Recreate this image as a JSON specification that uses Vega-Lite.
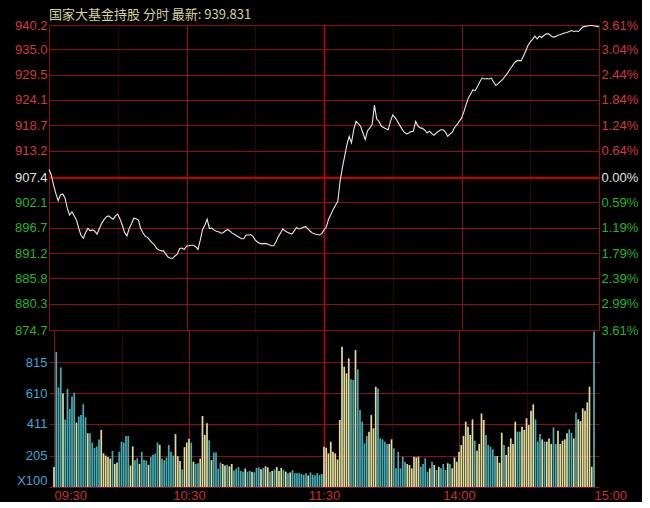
{
  "$schema": "https://vega.github.io/schema/vega-lite/v6.json",
  "background": "#000000",
  "padding": {"left": 14, "top": 9, "right": 4, "bottom": 0},
  "spacing": 0,
  "bounds": "flush",
  "config": {
    "view": {"stroke": null},
    "axis": {"labelFont": "Liberation Sans", "labelFontSize": 13, "ticks": false, "domain": false, "title": null, "labelPadding": 2}
  },
  "datasets": {
    "price": [
      {"t":0,"p":909.2},{"t":1,"p":908.0},{"t":2,"p":905.8},{"t":3,"p":904.0},{"t":4,"p":902.5},{"t":5,"p":903.7},{"t":6,"p":903.9},{"t":7,"p":903.0},{"t":8,"p":900.8},{"t":9,"p":899.4},
      {"t":10,"p":900.1},{"t":11,"p":899.2},{"t":12,"p":898.3},{"t":13,"p":896.5},{"t":14,"p":895.0},{"t":15,"p":894.4},{"t":16,"p":895.7},{"t":17,"p":896.5},{"t":18,"p":896.0},{"t":19,"p":896.2},
      {"t":20,"p":895.9},{"t":21,"p":895.3},{"t":22,"p":896.5},{"t":23,"p":897.6},{"t":24,"p":898.4},{"t":25,"p":899.0},{"t":26,"p":899.2},{"t":27,"p":898.8},{"t":28,"p":898.5},{"t":29,"p":899.2},
      {"t":30,"p":899.6},{"t":31,"p":898.5},{"t":32,"p":897.2},{"t":33,"p":895.6},{"t":34,"p":894.9},{"t":35,"p":896.5},{"t":36,"p":897.5},{"t":37,"p":898.7},{"t":38,"p":898.6},{"t":39,"p":898.3},
      {"t":40,"p":896.5},{"t":41,"p":895.6},{"t":42,"p":894.8},{"t":43,"p":894.6},{"t":44,"p":894.0},{"t":45,"p":893.4},{"t":46,"p":893.0},{"t":47,"p":892.2},{"t":48,"p":891.9},{"t":49,"p":891.7},
      {"t":50,"p":891.7},{"t":51,"p":891.0},{"t":52,"p":890.3},{"t":53,"p":890.1},{"t":54,"p":890.1},{"t":55,"p":890.6},{"t":56,"p":891.0},{"t":57,"p":892.2},{"t":58,"p":892.3},{"t":59,"p":892.0},
      {"t":60,"p":892.7},{"t":61,"p":892.8},{"t":62,"p":892.9},{"t":63,"p":892.9},{"t":64,"p":892.6},{"t":65,"p":892.0},{"t":66,"p":894.0},{"t":67,"p":896.3},{"t":68,"p":897.2},{"t":69,"p":898.5},
      {"t":70,"p":896.5},{"t":71,"p":896.6},{"t":72,"p":896.2},{"t":73,"p":895.9},{"t":74,"p":895.8},{"t":75,"p":895.5},{"t":76,"p":895.6},{"t":77,"p":896.0},{"t":78,"p":896.3},{"t":79,"p":895.9},
      {"t":80,"p":895.5},{"t":81,"p":895.2},{"t":82,"p":894.9},{"t":83,"p":894.6},{"t":84,"p":894.3},{"t":85,"p":894.3},{"t":86,"p":895.1},{"t":87,"p":895.1},{"t":88,"p":895.2},{"t":89,"p":894.8},
      {"t":90,"p":894.0},{"t":91,"p":893.6},{"t":92,"p":893.3},{"t":93,"p":893.2},{"t":94,"p":893.3},{"t":95,"p":893.2},{"t":96,"p":893.0},{"t":97,"p":892.8},{"t":98,"p":892.8},{"t":99,"p":893.6},
      {"t":100,"p":894.7},{"t":101,"p":895.5},{"t":102,"p":896.4},{"t":103,"p":896.0},{"t":104,"p":895.7},{"t":105,"p":895.5},{"t":106,"p":895.3},{"t":107,"p":896.0},{"t":108,"p":896.7},{"t":109,"p":896.4},
      {"t":110,"p":896.5},{"t":111,"p":896.8},{"t":112,"p":896.9},{"t":113,"p":896.4},{"t":114,"p":895.9},{"t":115,"p":895.5},{"t":116,"p":895.3},{"t":117,"p":895.2},{"t":118,"p":895.1},{"t":119,"p":895.4},
      {"t":120,"p":896.2},{"t":121,"p":896.8},{"t":122,"p":898.5},{"t":123,"p":899.5},{"t":124,"p":900.6},{"t":125,"p":901.5},{"t":126,"p":902.3},{"t":127,"p":906.6},{"t":128,"p":909.5},{"t":129,"p":912.0},
      {"t":130,"p":914.5},{"t":131,"p":916.3},{"t":132,"p":914.9},{"t":133,"p":917.8},{"t":134,"p":919.5},{"t":135,"p":919.0},{"t":136,"p":918.4},{"t":137,"p":917.0},{"t":138,"p":915.6},{"t":139,"p":917.5},
      {"t":140,"p":918.1},{"t":141,"p":918.8},{"t":142,"p":923.0},{"t":143,"p":920.0},{"t":144,"p":919.5},{"t":145,"p":918.5},{"t":146,"p":918.2},{"t":147,"p":917.9},{"t":148,"p":917.7},{"t":149,"p":919.5},
      {"t":150,"p":920.9},{"t":151,"p":920.3},{"t":152,"p":919.6},{"t":153,"p":918.7},{"t":154,"p":917.9},{"t":155,"p":917.2},{"t":156,"p":916.8},{"t":157,"p":917.0},{"t":158,"p":917.3},{"t":159,"p":917.4},
      {"t":160,"p":919.5},{"t":161,"p":918.5},{"t":162,"p":918.1},{"t":163,"p":918.0},{"t":164,"p":917.6},{"t":165,"p":917.0},{"t":166,"p":917.4},{"t":167,"p":916.9},{"t":168,"p":916.5},{"t":169,"p":917.0},
      {"t":170,"p":917.4},{"t":171,"p":917.7},{"t":172,"p":917.7},{"t":173,"p":917.2},{"t":174,"p":916.3},{"t":175,"p":916.8},{"t":176,"p":917.2},{"t":177,"p":918.2},{"t":178,"p":918.8},{"t":179,"p":919.5},
      {"t":180,"p":920.2},{"t":181,"p":921.5},{"t":182,"p":923.1},{"t":183,"p":924.5},{"t":184,"p":925.4},{"t":185,"p":926.3},{"t":186,"p":926.1},{"t":187,"p":927.0},{"t":188,"p":928.0},{"t":189,"p":928.8},
      {"t":190,"p":928.6},{"t":191,"p":928.7},{"t":192,"p":928.6},{"t":193,"p":928.8},{"t":194,"p":927.9},{"t":195,"p":927.2},{"t":196,"p":927.6},{"t":197,"p":928.1},{"t":198,"p":928.5},{"t":199,"p":929.2},
      {"t":200,"p":929.8},{"t":201,"p":930.6},{"t":202,"p":931.3},{"t":203,"p":932.0},{"t":204,"p":932.5},{"t":205,"p":932.6},{"t":206,"p":932.5},{"t":207,"p":933.5},{"t":208,"p":934.6},{"t":209,"p":935.8},
      {"t":210,"p":936.6},{"t":211,"p":937.1},{"t":212,"p":937.8},{"t":213,"p":937.2},{"t":214,"p":937.8},{"t":215,"p":937.5},{"t":216,"p":938.0},{"t":217,"p":938.3},{"t":218,"p":938.3},{"t":219,"p":937.9},
      {"t":220,"p":937.6},{"t":221,"p":937.7},{"t":222,"p":938.0},{"t":223,"p":938.1},{"t":224,"p":938.3},{"t":225,"p":938.5},{"t":226,"p":938.6},{"t":227,"p":938.8},{"t":228,"p":939.0},{"t":229,"p":938.8},
      {"t":230,"p":938.9},{"t":231,"p":938.8},{"t":232,"p":939.3},{"t":233,"p":939.8},{"t":234,"p":939.9},{"t":235,"p":940.0},{"t":236,"p":940.1},{"t":237,"p":940.1},{"t":238,"p":940.0},{"t":239,"p":939.9},
      {"t":240,"p":939.83}
    ],
    "vol": [
      {"t":0,"v":130,"d":"up"},{"t":1,"v":880,"d":"down"},{"t":2,"v":650,"d":"down"},{"t":3,"v":780,"d":"down"},{"t":4,"v":610,"d":"up"},{"t":5,"v":440,"d":"down"},{"t":6,"v":640,"d":"down"},{"t":7,"v":510,"d":"down"},{"t":8,"v":590,"d":"down"},{"t":9,"v":615,"d":"down"},
      {"t":10,"v":420,"d":"up"},{"t":11,"v":460,"d":"down"},{"t":12,"v":470,"d":"down"},{"t":13,"v":540,"d":"down"},{"t":14,"v":455,"d":"down"},{"t":15,"v":350,"d":"up"},{"t":16,"v":350,"d":"down"},{"t":17,"v":290,"d":"down"},{"t":18,"v":255,"d":"down"},{"t":19,"v":265,"d":"down"},
      {"t":20,"v":310,"d":"down"},{"t":21,"v":372,"d":"up"},{"t":22,"v":220,"d":"up"},{"t":23,"v":205,"d":"up"},{"t":24,"v":195,"d":"up"},{"t":25,"v":185,"d":"up"},{"t":26,"v":235,"d":"down"},{"t":27,"v":150,"d":"up"},{"t":28,"v":160,"d":"up"},{"t":29,"v":230,"d":"down"},
      {"t":30,"v":295,"d":"down"},{"t":31,"v":290,"d":"down"},{"t":32,"v":332,"d":"down"},{"t":33,"v":332,"d":"down"},{"t":34,"v":140,"d":"up"},{"t":35,"v":265,"d":"up"},{"t":36,"v":175,"d":"down"},{"t":37,"v":187,"d":"down"},{"t":38,"v":150,"d":"up"},{"t":39,"v":230,"d":"down"},
      {"t":40,"v":178,"d":"down"},{"t":41,"v":172,"d":"down"},{"t":42,"v":145,"d":"up"},{"t":43,"v":195,"d":"down"},{"t":44,"v":210,"d":"down"},{"t":45,"v":218,"d":"down"},{"t":46,"v":290,"d":"down"},{"t":47,"v":275,"d":"up"},{"t":48,"v":185,"d":"down"},{"t":49,"v":175,"d":"down"},
      {"t":50,"v":193,"d":"down"},{"t":51,"v":274,"d":"down"},{"t":52,"v":230,"d":"down"},{"t":53,"v":205,"d":"down"},{"t":54,"v":345,"d":"up"},{"t":55,"v":200,"d":"up"},{"t":56,"v":170,"d":"up"},{"t":57,"v":115,"d":"down"},{"t":58,"v":260,"d":"up"},{"t":59,"v":290,"d":"up"},
      {"t":60,"v":315,"d":"up"},{"t":61,"v":290,"d":"down"},{"t":62,"v":165,"d":"up"},{"t":63,"v":150,"d":"down"},{"t":64,"v":155,"d":"down"},{"t":65,"v":185,"d":"up"},{"t":66,"v":463,"d":"up"},{"t":67,"v":340,"d":"up"},{"t":68,"v":415,"d":"up"},{"t":69,"v":305,"d":"down"},
      {"t":70,"v":175,"d":"up"},{"t":71,"v":225,"d":"down"},{"t":72,"v":225,"d":"down"},{"t":73,"v":120,"d":"down"},{"t":74,"v":160,"d":"down"},{"t":75,"v":150,"d":"up"},{"t":76,"v":140,"d":"up"},{"t":77,"v":145,"d":"down"},{"t":78,"v":135,"d":"up"},{"t":79,"v":150,"d":"up"},
      {"t":80,"v":108,"d":"down"},{"t":81,"v":120,"d":"down"},{"t":82,"v":130,"d":"down"},{"t":83,"v":105,"d":"down"},{"t":84,"v":100,"d":"down"},{"t":85,"v":120,"d":"up"},{"t":86,"v":100,"d":"down"},{"t":87,"v":105,"d":"down"},{"t":88,"v":100,"d":"up"},{"t":89,"v":96,"d":"down"},
      {"t":90,"v":125,"d":"down"},{"t":91,"v":128,"d":"down"},{"t":92,"v":115,"d":"up"},{"t":93,"v":125,"d":"down"},{"t":94,"v":135,"d":"up"},{"t":95,"v":128,"d":"up"},{"t":96,"v":100,"d":"down"},{"t":97,"v":105,"d":"up"},{"t":98,"v":115,"d":"down"},{"t":99,"v":130,"d":"up"},
      {"t":100,"v":105,"d":"up"},{"t":101,"v":125,"d":"up"},{"t":102,"v":112,"d":"down"},{"t":103,"v":100,"d":"up"},{"t":104,"v":90,"d":"down"},{"t":105,"v":95,"d":"up"},{"t":106,"v":110,"d":"down"},{"t":107,"v":90,"d":"down"},{"t":108,"v":90,"d":"down"},{"t":109,"v":90,"d":"down"},
      {"t":110,"v":85,"d":"down"},{"t":111,"v":80,"d":"down"},{"t":112,"v":90,"d":"down"},{"t":113,"v":75,"d":"up"},{"t":114,"v":95,"d":"down"},{"t":115,"v":80,"d":"down"},{"t":116,"v":75,"d":"down"},{"t":117,"v":90,"d":"down"},{"t":118,"v":78,"d":"down"},{"t":119,"v":85,"d":"down"},
      {"t":120,"v":262,"d":"up"},{"t":121,"v":256,"d":"up"},{"t":122,"v":219,"d":"up"},{"t":123,"v":295,"d":"up"},{"t":124,"v":230,"d":"up"},{"t":125,"v":219,"d":"up"},{"t":126,"v":180,"d":"up"},{"t":127,"v":437,"d":"up"},{"t":128,"v":915,"d":"up"},{"t":129,"v":784,"d":"up"},
      {"t":130,"v":741,"d":"up"},{"t":131,"v":839,"d":"up"},{"t":132,"v":702,"d":"down"},{"t":133,"v":698,"d":"down"},{"t":134,"v":893,"d":"up"},{"t":135,"v":767,"d":"down"},{"t":136,"v":502,"d":"down"},{"t":137,"v":426,"d":"down"},{"t":138,"v":285,"d":"down"},{"t":139,"v":333,"d":"down"},
      {"t":140,"v":361,"d":"up"},{"t":141,"v":469,"d":"up"},{"t":142,"v":383,"d":"up"},{"t":143,"v":654,"d":"up"},{"t":144,"v":643,"d":"down"},{"t":145,"v":318,"d":"down"},{"t":146,"v":311,"d":"down"},{"t":147,"v":296,"d":"down"},{"t":148,"v":281,"d":"down"},{"t":149,"v":281,"d":"up"},
      {"t":150,"v":311,"d":"up"},{"t":151,"v":252,"d":"down"},{"t":152,"v":122,"d":"down"},{"t":153,"v":230,"d":"down"},{"t":154,"v":122,"d":"down"},{"t":155,"v":198,"d":"down"},{"t":156,"v":165,"d":"down"},{"t":157,"v":150,"d":"up"},{"t":158,"v":143,"d":"up"},{"t":159,"v":122,"d":"up"},
      {"t":160,"v":198,"d":"up"},{"t":161,"v":193,"d":"up"},{"t":162,"v":198,"d":"up"},{"t":163,"v":132,"d":"down"},{"t":164,"v":150,"d":"down"},{"t":165,"v":187,"d":"down"},{"t":166,"v":100,"d":"down"},{"t":167,"v":122,"d":"up"},{"t":168,"v":165,"d":"down"},{"t":169,"v":143,"d":"up"},
      {"t":170,"v":111,"d":"down"},{"t":171,"v":132,"d":"up"},{"t":172,"v":122,"d":"down"},{"t":173,"v":150,"d":"down"},{"t":174,"v":111,"d":"down"},{"t":175,"v":155,"d":"up"},{"t":176,"v":150,"d":"down"},{"t":177,"v":122,"d":"up"},{"t":178,"v":193,"d":"up"},{"t":179,"v":165,"d":"up"},
      {"t":180,"v":230,"d":"up"},{"t":181,"v":274,"d":"up"},{"t":182,"v":333,"d":"up"},{"t":183,"v":426,"d":"up"},{"t":184,"v":393,"d":"up"},{"t":185,"v":339,"d":"up"},{"t":186,"v":441,"d":"up"},{"t":187,"v":302,"d":"down"},{"t":188,"v":237,"d":"up"},{"t":189,"v":281,"d":"up"},
      {"t":190,"v":480,"d":"up"},{"t":191,"v":437,"d":"up"},{"t":192,"v":339,"d":"down"},{"t":193,"v":274,"d":"down"},{"t":194,"v":263,"d":"down"},{"t":195,"v":246,"d":"down"},{"t":196,"v":202,"d":"down"},{"t":197,"v":202,"d":"up"},{"t":198,"v":158,"d":"up"},{"t":199,"v":354,"d":"up"},
      {"t":200,"v":274,"d":"down"},{"t":201,"v":209,"d":"up"},{"t":202,"v":263,"d":"up"},{"t":203,"v":317,"d":"up"},{"t":204,"v":281,"d":"up"},{"t":205,"v":426,"d":"up"},{"t":206,"v":361,"d":"down"},{"t":207,"v":361,"d":"down"},{"t":208,"v":393,"d":"up"},{"t":209,"v":372,"d":"up"},
      {"t":210,"v":448,"d":"up"},{"t":211,"v":404,"d":"up"},{"t":212,"v":498,"d":"up"},{"t":213,"v":539,"d":"up"},{"t":214,"v":441,"d":"down"},{"t":215,"v":296,"d":"down"},{"t":216,"v":346,"d":"down"},{"t":217,"v":311,"d":"up"},{"t":218,"v":296,"d":"down"},{"t":219,"v":296,"d":"up"},
      {"t":220,"v":317,"d":"up"},{"t":221,"v":281,"d":"up"},{"t":222,"v":389,"d":"down"},{"t":223,"v":281,"d":"down"},{"t":224,"v":367,"d":"up"},{"t":225,"v":281,"d":"up"},{"t":226,"v":302,"d":"up"},{"t":227,"v":311,"d":"up"},{"t":228,"v":350,"d":"up"},{"t":229,"v":376,"d":"down"},
      {"t":230,"v":354,"d":"down"},{"t":231,"v":317,"d":"up"},{"t":232,"v":485,"d":"down"},{"t":233,"v":441,"d":"up"},{"t":234,"v":430,"d":"up"},{"t":235,"v":513,"d":"up"},{"t":236,"v":498,"d":"up"},{"t":237,"v":552,"d":"up"},{"t":238,"v":654,"d":"up"},{"t":239,"v":132,"d":"up"},
      {"t":240,"v":1015,"d":"down"}
    ]
  },
  "vconcat": [
    {
      "width": 550,
      "height": 305,
      "title": {"text": "国家大基金持股 分时 最新: 939.831", "anchor": "start", "frame": "group", "color": "#d6d49c", "font": "Noto Sans CJK SC", "fontSize": 13, "fontWeight": "normal", "offset": -3},
      "layer": [
        {
          "data": {"values": [{}]},
          "mark": {"type": "rule", "color": "#c40000", "strokeWidth": 2},
          "encoding": {
            "y": {
              "datum": 907.4, "type": "quantitative",
              "scale": {"domain": [874.7, 940.2], "nice": false, "zero": false},
              "axis": {
                "orient": "right", "grid": false,
                "values": [940.2, 935.0, 929.5, 924.1, 918.7, 913.2, 907.4, 902.1, 896.7, 891.2, 885.8, 880.3, 874.7],
                "labelExpr": "datum.value>938?'3.61%':datum.value>932?'3.04%':datum.value>927?'2.44%':datum.value>921?'1.84%':datum.value>916?'1.24%':datum.value>910?'0.64%':datum.value>905?'0.00%':datum.value>899?'0.59%':datum.value>894?'1.19%':datum.value>888?'1.79%':datum.value>883?'2.39%':datum.value>877?'2.99%':'3.61%'",
                "labelColor": {"condition": [{"test": "datum.value > 908", "value": "#d23a3a"}, {"test": "datum.value > 906", "value": "#e0e0e0"}], "value": "#28b428"}
              }
            }
          }
        },
        {
          "data": {"name": "price"},
          "mark": {"type": "line", "color": "#e8e8e8", "strokeWidth": 1.1},
          "encoding": {
            "x": {
              "field": "t", "type": "quantitative",
              "scale": {"domain": [0, 240], "nice": false},
              "axis": {
                "labels": false, "grid": true, "minExtent": 0, "maxExtent": 0, "offset": 0, "labelPadding": 0,
                "values": [0, 30, 60, 90, 120, 150, 180, 210, 240],
                "gridColor": {"condition": {"test": "datum.value == 120", "value": "#d00000"}, "value": "#8b1010"},
                "gridWidth": {"condition": {"test": "datum.value == 120", "value": 1.5}, "value": 1},
                "gridDash": {"condition": {"test": "datum.value % 60 == 30", "value": [1, 2]}, "value": []}
              }
            },
            "y": {
              "field": "p", "type": "quantitative",
              "scale": {"domain": [874.7, 940.2], "nice": false, "zero": false},
              "axis": {
                "orient": "left", "grid": true, "gridColor": "#8b1010", "format": ".1f",
                "values": [940.2, 935.0, 929.5, 924.1, 918.7, 913.2, 907.4, 902.1, 896.7, 891.2, 885.8, 880.3, 874.7],
                "labelColor": {"condition": [{"test": "datum.value > 908", "value": "#d23a3a"}, {"test": "datum.value > 906", "value": "#e0e0e0"}], "value": "#28b428"}
              }
            }
          }
        }
      ],
      "resolve": {"axis": {"y": "independent"}}
    },
    {
      "width": 550,
      "height": 157,
      "data": {"name": "vol"},
      "mark": {"type": "bar", "size": 1.7},
      "encoding": {
        "x": {
          "field": "t", "type": "quantitative",
          "scale": {"domain": [0, 240], "nice": false},
          "axis": {
            "grid": true,
            "values": [0, 30, 60, 90, 120, 150, 180, 210, 240],
            "labelExpr": "datum.value==0?'09:30':datum.value==60?'10:30':datum.value==120?'11:30':datum.value==180?'14:00':datum.value==240?'15:00':''",
            "labelColor": "#c83232", "labelFontSize": 13, "labelPadding": 2,
            "labelAlign": {"condition": {"test": "datum.value == 0 || datum.value == 240", "value": "left"}, "value": "center"},
            "gridColor": {"condition": {"test": "datum.value == 120", "value": "#d00000"}, "value": "#8b1010"},
            "gridWidth": {"condition": {"test": "datum.value == 120", "value": 1.5}, "value": 1},
            "gridDash": {"condition": {"test": "datum.value % 60 == 30", "value": [1, 2]}, "value": []}
          }
        },
        "y": {
          "field": "v", "type": "quantitative",
          "scale": {"domain": [0, 1024], "nice": false},
          "axis": {
            "grid": true, "gridColor": "#8b1010",
            "values": [0, 205, 411, 610, 815],
            "labelExpr": "datum.value == 0 ? 'X100' : datum.label",
            "labelColor": "#3ea6d6",
            "labelBaseline": {"condition": {"test": "datum.value == 0", "value": "bottom"}, "value": "middle"}
          }
        },
        "color": {"field": "d", "type": "nominal", "scale": {"domain": ["up", "down"], "range": ["#e2dd9c", "#46adb6"]}, "legend": null}
      }
    }
  ]
}
